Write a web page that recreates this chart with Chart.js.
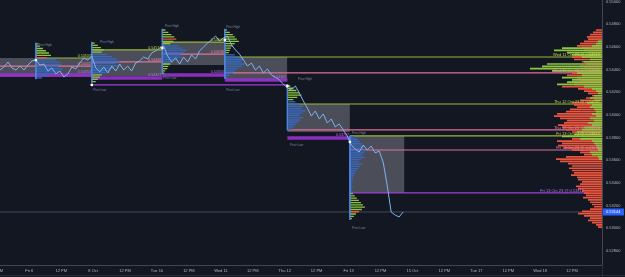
<!DOCTYPE html>
<html>
<head>
<meta charset="utf-8">
<script src="https://cdn.jsdelivr.net/npm/chart.js@4.4.1/dist/chart.umd.min.js"></script>
<style>
html,body{margin:0;padding:0;background:#131722;overflow:hidden;}
canvas{display:block;}
</style>
</head>
<body>
<canvas id="chart" width="625" height="277"></canvas>
<script>
// ---------- axes ----------
// time unit: trading hours after Thu 5 Oct, 12 PM
const tickHours  = [0,12,24,36,48,60,72,84,96,108,120,132,144,156,168,180,192,204,216];
const tickLabels = ['12 PM','Fri 6','12 PM','8 Oct','12 PM','Tue 10','12 PM','Wed 11','12 PM','Thu 12','12 PM','Fri 13','12 PM','15 Oct','12 PM','Tue 17','12 PM','Wed 18','12 PM'];
const priceTicks = [0.528,0.530,0.532,0.534,0.536,0.538,0.540,0.542,0.544,0.546,0.548,0.550];

// ---------- price series (every 1.5 h) ----------
const closeStartHour = 1, closeStepHours = 1.5;
const closes = [
 0.54397,0.54424,0.54468,0.54415,0.54397,0.54432,0.54397,0.54441,0.54477,0.54485,
 0.54441,0.54450,0.54388,0.54415,0.54362,0.54388,0.54335,0.54362,0.54424,0.54406,
 0.54459,0.54503,0.54485,0.54521,0.54415,0.54380,0.54424,0.54371,0.54432,0.54388,
 0.54450,0.54397,0.54432,0.54388,0.54459,0.54477,0.54512,0.54494,0.54547,0.54565,
 0.54591,0.54609,0.54521,0.54468,0.54503,0.54450,0.54512,0.54468,0.54530,0.54494,
 0.54565,0.54600,0.54635,0.54662,0.54697,0.54653,0.54680,0.54697,0.54618,0.54574,
 0.54538,0.54485,0.54432,0.54459,0.54397,0.54432,0.54371,0.54406,0.54353,0.54335,
 0.54309,0.54274,0.54238,0.54221,0.54256,0.54194,0.54124,0.54062,0.53991,0.54035,
 0.53965,0.54009,0.53929,0.53965,0.53894,0.53921,0.53868,0.53815,0.53735,0.53700,
 0.53673,0.53735,0.53691,0.53726,0.53665,0.53682,0.53585,0.53382,0.53144,0.53117,
 0.53100,0.53144
];

// ---------- sessions ----------
const sessionOpens = [14.5, 35.5, 62, 85.5, 109, 132.5];
const openMarks    = [0.54485, 0.54265, 0.54591, 0.54662, 0.54256, 0.53762];

// previous-day value areas [startHour, endHour, high, low]
const valueAreas = [
 [1, 35.5, 0.54503, 0.54335],
 [35.5, 62, 0.54574, 0.54344],
 [62, 85.5, 0.54644, 0.54441],
 [85.5, 109, 0.54512, 0.54309],
 [109, 132.5, 0.54097, 0.53850],
 [132.5, 153, 0.53815, 0.53312]
];
// levels [startHour, endHour, price]
const vahLines = [[14.5,35.5,0.54503],[35.5,62,0.54574],[62,85.5,0.54644]];
const pocLines = [[1,35.5,0.54432],[35.5,62,0.54468],[62,85.5,0.54538]];
const valLines = [[1,35.5,0.54353],[35.5,62,0.54327],[62,85.5,0.54353],[85.5,109,0.54309],[109,132.5,0.53797]];
const lowLines = [[35.5,109,0.54265]];
// untouched levels extended to the right [startHour, price, day]
const nakedVah = [[85.5,0.54512,'Wed 11 Oct 23'],[109,0.54097,'Thu 12 Oct 23'],[132.5,0.53815,'Fri 13 Oct 23']];
const nakedPoc = [[85.5,0.54371,'Wed 11 Oct 23'],[109,0.53868,'Thu 12 Oct 23'],[132.5,0.53691,'Fri 13 Oct 23']];
const nakedVal = [[132.5,0.53312,'Fri 13 Oct 23']];

const prevHighMarks = [[15.3,0.54618],[38.6,0.54644],[63,0.54786],[86,0.54777],[113,0.54318],[133.3,0.53841]];
const prevLowMarks  = [[36,0.54221],[62.3,0.54327],[86,0.54221],[110,0.53735],[133.3,0.53003]];

// ---------- daily profiles (lots per 0.0002 row, from the top) ----------
const rowStep = 0.0002;
const dailyTop = [0.54627, 0.54635, 0.54750, 0.54750, 0.54256, 0.53806];
const dailyLots = [
 [2,4,7,10,13,15,11,20,24,26,22,27,24,18,12,6],
 [3,6,9,12,10,15,20,25,28,24,27,22,18,14,10,8,6,4],
 [3,6,9,12,14,11,8,16,20,24,22,18,20,15,10,8,6,5,3,2],
 [2,5,8,10,12,14,10,8,6,5,4,10,14,18,16,20,17,13,10,8,5,3],
 [3,6,9,12,14,10,6,8,12,16,14,18,15,12,16,13,10,8,6,4],
 [4,8,10,12,15,13,17,14,12,15,11,9,13,10,8,6,5,4,3,3,2,2,3,2,2,3,5,7,9,11,13,15,12,9,6,4,2]
];
const dailySide = [
 'ggggggrbbbbbbbbb',
 'gggggbbbbbbbbbgggg',
 'ggggrggbbbbbbbbggggg',
 'gggggggggggbbbbbbbbbbb',
 'gggggggbbbbbbbbbbbbb',
 'bbbbbbbbbbbbbbbbbbbbbbbbbggggggggrggg'
];

// ---------- visible-range volume profile (lots per 0.0002 row from 0.5475 down) ----------
const rightTop = 0.5475;
const rightDownLots = [
 6,9,12,15,14,18,22,25,20,18, 14,24,30,28,20,16,22,18,26,30,
 35,25,22,30,28,40,24,18,14,10, 16,22,30,28,25,32,36,45,48,42,
 35,38,44,40,36,30,24,20,30,45, 40,44,38,30,22,18,36,46,42,34,
 30,33,30,28,31,25,24,20,22,26, 24,20,18,16,19,14,12,10,8,12,
 20,24,18,12,14,10,6,4
];
const rightUpLots = [
 0,0,0,0,0,4,6,10,40,48, 35,30,20,12,18,55,60,72,50,25,
 20,40,30,35,45,18,10,6,4,8, 12,8,15,10,12,8,6,10,6,12,
 8,14,10,18,20,25,28,40,22,10, 8,6,5,4,12,10,4,3,0,0,
 0,0,0,0,0,0,0,0,0,0, 0,0,0,0,0,0,0,0,0,0,
 0,0,0,0,0,0,0,0
];

// ---------- build ----------
const X_MIN = 1.0, X_MAX = 227.25, Y_MIN = 0.52676, Y_MAX = 0.55015;
const hoursPerLot = 0.376;
const lastClose = closes[closes.length-1];

const C = {
  bg:'#131722', price:'#7fb2f0', box:'rgba(160,163,172,0.40)',
  vah:'#98b83a', poc:'#e0709a', val:'rgba(150,50,205,0.9)', valThin:'#9c3fd6',
  blue:'#2f69cc', green:'#8ec641', red:'#ec553d', axisTxt:'#b2b5be',
  mark:'#7585a3'
};

function hseg(arr, x0, x1, y){ arr.push({x:x0,y:y},{x:x1,y:y},{x:x1,y:null}); }
function lineDs(data, color, width, order){
  return {data, borderColor:color, borderWidth:width, pointRadius:0, fill:false,
          tension:0, spanGaps:false, borderCapStyle:'butt', order};
}

const datasets = [];
// price
datasets.push(lineDs(closes.map((v,i)=>({x:closeStartHour+i*closeStepHours, y:v})), C.price, 1, 10));
// open marks
datasets.push({data:sessionOpens.map((h,i)=>({x:h,y:openMarks[i]})), showLine:false, pointRadius:1.4,
  pointBackgroundColor:'#ffffff', pointBorderWidth:0, order:5});
// value-area boxes
valueAreas.forEach(([a,b,hi,lo])=>{
  datasets.push({data:[{x:a,y:hi},{x:b,y:hi}], borderWidth:0, pointRadius:0, fill:{value:lo},
                 backgroundColor:C.box, order:50});
});
// levels
const vahD=[], pocD=[], valD=[], lowD=[], nvD=[];
vahLines.forEach(([a,b,p])=>hseg(vahD,a,b,p));
nakedVah.forEach(([a,p])=>hseg(vahD,a,X_MAX,p));
pocLines.forEach(([a,b,p])=>hseg(pocD,a,b,p));
nakedPoc.forEach(([a,p])=>hseg(pocD,a,X_MAX,p));
valLines.forEach(([a,b,p])=>hseg(valD,a,b,p));
lowLines.forEach(([a,b,p])=>hseg(lowD,a,b,p));
nakedVal.forEach(([a,p])=>hseg(nvD,a,X_MAX-5,p));
datasets.push(lineDs(vahD, C.vah, 1.2, 40));
datasets.push(lineDs(pocD, C.poc, 1.2, 40));
datasets.push(lineDs(valD, C.val, 3.5, 41));
datasets.push(lineDs(lowD, C.valThin, 1.2, 41));
datasets.push(lineDs(nvD, C.valThin, 1.2, 40));
// last price line
datasets.push(lineDs([{x:X_MIN,y:lastClose},{x:X_MAX,y:lastClose}], 'rgba(120,140,180,0.55)', 0.8, 45));
// daily profiles
const dG=[], dB=[], dR=[], dAx=[];
sessionOpens.forEach((h,i)=>{
  const lots = dailyLots[i], kinds = dailySide[i];
  lots.forEach((v,r)=>{
    const y = dailyTop[i] - r*rowStep;
    const tgt = kinds[r]==='g' ? dG : (kinds[r]==='b' ? dB : dR);
    hseg(tgt, h, h + v*hoursPerLot, y);
  });
  dAx.push({x:h,y:dailyTop[i]+rowStep/2},{x:h,y:dailyTop[i]-(lots.length-0.5)*rowStep},{x:h,y:null});
});
datasets.push(lineDs(dG, C.green, 1.3, 30));
datasets.push(lineDs(dB, C.blue, 1.3, 30));
datasets.push(lineDs(dR, C.red, 1.3, 29));
datasets.push(lineDs(dAx, '#4f86e0', 1, 28));
// right volume profile
const rG=[], rR=[];
rightDownLots.forEach((v,r)=>{ if(v>0) hseg(rR, X_MAX - v*hoursPerLot, X_MAX, rightTop - r*rowStep); });
rightUpLots.forEach((v,r)=>{ if(v>0) hseg(rG, X_MAX - v*hoursPerLot, X_MAX, rightTop - r*rowStep); });
datasets.push(lineDs(rR, C.red, 1.7, 21));
datasets.push(lineDs(rG, C.green, 1.7, 20));

// ---------- texts ----------
const FONT = '"Liberation Sans", Arial, sans-serif';
const texts = [];
prevHighMarks.forEach(([h,v])=>texts.push({t:'Prev High',h,v,c:C.mark,s:3.2,al:'left',bl:'middle'}));
prevLowMarks.forEach(([h,v])=>texts.push({t:'Prev Low',h,v,c:C.mark,s:3.2,al:'left',bl:'middle'}));
vahLines.forEach(([a,b,p])=>texts.push({t:p.toFixed(5),h:b,v:p,c:'#c9d64a',s:3.6,al:'right',bl:'bottom',dx:-1}));
pocLines.forEach(([a,b,p])=>texts.push({t:p.toFixed(5),h:b,v:p,c:'#ef86ad',s:3.6,al:'right',bl:'bottom',dx:-1}));
valLines.forEach(([a,b,p])=>texts.push({t:p.toFixed(5),h:b,v:p,c:'#b57ae6',s:3.6,al:'right',bl:'bottom',dx:-1,dy:-1}));
nakedVah.forEach(([a,p,d])=>texts.push({t:d+' @ '+p.toFixed(5),h:X_MAX,v:p,c:'#c9d64a',s:4,al:'right',bl:'bottom',dx:-2}));
nakedPoc.forEach(([a,p,d])=>texts.push({t:d+' @ '+p.toFixed(5),h:X_MAX,v:p,c:'#ef86ad',s:4,al:'right',bl:'bottom',dx:-2}));
nakedVal.forEach(([a,p,d])=>texts.push({t:d+' @ '+p.toFixed(5),h:X_MAX-6,v:p,c:'#b57ae6',s:4,al:'right',bl:'bottom',dx:-2}));

const textPlugin = {
  id:'texts',
  afterDatasetsDraw(chart){
    const {ctx, scales:{x,y}} = chart;
    ctx.save();
    texts.forEach(o=>{
      ctx.font = o.s+'px '+FONT;
      ctx.fillStyle = o.c; ctx.textAlign = o.al; ctx.textBaseline = o.bl;
      ctx.fillText(o.t, x.getPixelForValue(o.h)+(o.dx||0), y.getPixelForValue(o.v)+(o.dy||0));
    });
    ctx.restore();
  },
  afterDraw(chart){
    const {ctx, chartArea:ca, scales:{y}} = chart;
    ctx.save();
    ctx.strokeStyle = '#2a2e39'; ctx.lineWidth = 1;
    ctx.beginPath(); ctx.moveTo(0, ca.bottom+10.5); ctx.lineTo(chart.width, ca.bottom+10.5); ctx.stroke();
    ctx.beginPath(); ctx.moveTo(ca.right+0.5, ca.bottom); ctx.lineTo(ca.right+0.5, chart.height); ctx.stroke();
    const py = y.getPixelForValue(lastClose);
    ctx.fillStyle = '#2962ff'; ctx.fillRect(ca.right+1, py-3.5, 21, 7);
    ctx.fillStyle = '#ffffff'; ctx.font = '4px '+FONT; ctx.textAlign='left'; ctx.textBaseline='middle';
    ctx.fillText(lastClose.toFixed(5), ca.right+4, py);
    ctx.restore();
  }
};

const bgPlugin = {
  id:'bg',
  beforeDraw(chart){ const c=chart.ctx; c.save(); c.fillStyle=C.bg; c.fillRect(0,0,chart.width,chart.height); c.restore(); }
};

new Chart(document.getElementById('chart'), {
  type:'line',
  data:{datasets},
  options:{
    responsive:false, animation:false, devicePixelRatio:1,
    layout:{padding:0, autoPadding:false},
    plugins:{legend:{display:false}, tooltip:{enabled:false}},
    scales:{
      x:{type:'linear', position:'bottom', min:X_MIN, max:X_MAX,
         grid:{display:false, drawTicks:false},
         border:{display:true, color:'#434651'},
         ticks:{color:C.axisTxt, font:{size:4, family:FONT}, padding:3, maxRotation:0, minRotation:0, autoSkip:false,
                callback:(v)=>{const i=tickHours.indexOf(v); return i>=0?tickLabels[i]:'';}},
         afterBuildTicks:(s)=>{ s.ticks = tickHours.filter(h=>h<=s.max).map(value=>({value})); },
         afterFit:(s)=>{ s.height=12; s.paddingLeft=0; s.paddingRight=0; }
      },
      y:{type:'linear', position:'right', min:Y_MIN, max:Y_MAX,
         grid:{display:false, drawTicks:false},
         border:{display:true, color:'#434651'},
         ticks:{color:C.axisTxt, font:{size:4, family:FONT}, padding:4,
                callback:(v)=>Number(v).toFixed(5)},
         afterBuildTicks:(s)=>{ s.ticks = priceTicks.map(value=>({value})); },
         afterFit:(s)=>{ s.width=23; s.paddingTop=0; s.paddingBottom=0; }
      }
    }
  },
  plugins:[bgPlugin, textPlugin]
});
</script>
</body>
</html>
